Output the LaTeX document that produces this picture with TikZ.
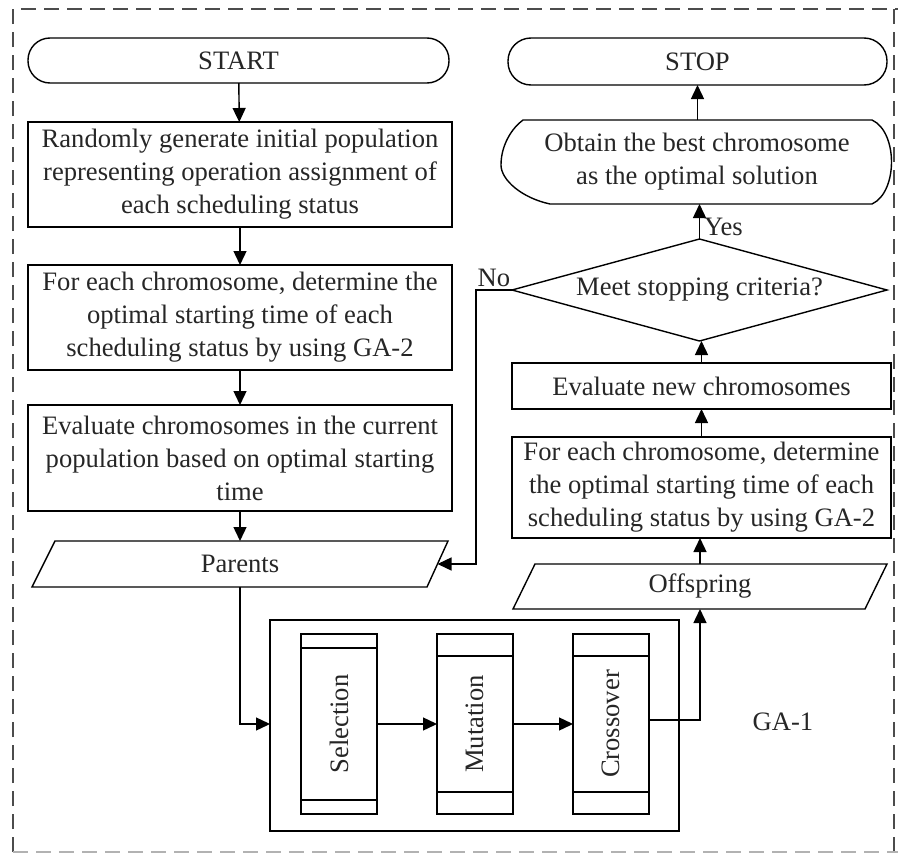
\documentclass[tikz,border=0pt]{standalone}
\usepackage{fontspec}
\setmainfont{Liberation Serif}
\usetikzlibrary{arrows.meta}
\newcommand\flowfont{\fontsize{26.6}{33}\selectfont}
\begin{document}
\begin{tikzpicture}[x=1pt,y=-1pt,line width=1.4pt,
  every node/.style={font=\flowfont,inner sep=0pt,outer sep=0pt,text=black!85},
  box/.style={draw,rectangle,align=center},
  term/.style={draw,rectangle,rounded corners=22pt,align=center},
  plain/.style={rectangle,align=center},
  arr/.style={-{Triangle[length=14pt,width=13pt]}},
  band/.style={draw,rectangle,minimum width=76pt,minimum height=180pt}]
\useasboundingbox (0,0) rectangle (898,854);

% dashed frame
\draw[line width=2.2pt,black!70,dash pattern=on 15pt off 8pt] (13,852) -- (13,9) -- (898,9);
\draw[line width=2.2pt,black!70,dash pattern=on 15pt off 8pt] (894,9) -- (894,852);
\draw[line width=1.6pt,black!30,dash pattern=on 15pt off 8pt] (13,852) -- (898,852);

% left column
\node[term,minimum width=421pt,minimum height=45pt] (start) at (238.5,60.5) {START};
\node[box,minimum width=424pt,minimum height=105pt] (b1) at (240,174.5)
  {Randomly generate initial population\\representing operation assignment of\\each scheduling status};
\node[box,minimum width=424pt,minimum height=105pt] (b2) at (240,317.5)
  {For each chromosome, determine the\\optimal starting time of each\\scheduling status by using GA-2};
\node[box,minimum width=424pt,minimum height=106pt] (b3) at (240,458)
  {Evaluate chromosomes in the current\\population based on optimal starting\\time};
\node[plain,minimum width=416pt,minimum height=46pt] (parents) at (240,564) {Parents};
\draw ([xshift=23pt]parents.north west) -- (parents.north east)
  -- ([xshift=-21pt]parents.south east) -- (parents.south west) -- cycle;
\coordinate (parR) at ([xshift=-10.5pt]parents.east);

% right column
\node[term,minimum width=379pt,minimum height=47pt,rounded corners=23pt] (stop) at (697.5,61.5) {STOP};
\node[plain,minimum width=392pt,minimum height=84pt] (best) at (697,162)
  {Obtain the best chromosome\\as the optimal solution};
\draw (523,120) -- (872,120) .. controls (898,132) and (898,192) .. (872,204)
  -- (550,204) .. controls (522,198) and (501,180) .. (501,165)
  .. controls (501,145) and (512,128) .. (523,120) -- cycle;
\node[plain,minimum width=375pt,minimum height=102pt] (dec) at (699.5,290) {Meet stopping criteria?};
\draw (dec.north) -- (dec.east) -- (dec.south) -- (dec.west) -- cycle;
\node[box,minimum width=379pt,minimum height=46pt] (r1) at (701.5,386) {Evaluate new chromosomes};
\node[box,minimum width=379pt,minimum height=101pt] (r2) at (701.5,487.5)
  {For each chromosome, determine\\the optimal starting time of each\\scheduling status by using GA-2};
\node[plain,minimum width=374pt,minimum height=45pt] (off) at (700,586.5) {Offspring};
\draw ([xshift=22pt]off.north west) -- (off.north east)
  -- ([xshift=-22pt]off.south east) -- (off.south west) -- cycle;

% GA-1 block
\node[draw,rectangle,minimum width=409pt,minimum height=211pt] (ga) at (474.5,725.5) {};
\node[band] (sel) at (339,724) {};
\node[band] (mut) at (475,724) {};
\node[band] (cro) at (611,724) {};
\draw ([yshift=-14pt]sel.north west) -- ([yshift=-14pt]sel.north east);
\draw ([yshift=14pt]sel.south west) -- ([yshift=14pt]sel.south east);
\foreach \n in {mut,cro}{
  \draw ([yshift=-22pt]\n.north west) -- ([yshift=-22pt]\n.north east);
  \draw ([yshift=22pt]\n.south west) -- ([yshift=22pt]\n.south east);
}
\node[rotate=90] (selt) at (sel.center) {Selection};
\node[rotate=90] (mutt) at (mut.center) {Mutation};
\node[rotate=90] (crot) at (cro.center) {Crossover};
\node (galabel) at (783,722) {GA-1};

% connectors
\draw[arr] (start) -- (b1);
\draw[arr] (b1) -- (b2);
\draw[arr] (b2) -- (b3);
\draw[arr] (b3) -- (parents.north);
\draw[arr] (parents.south) |- (sel.center -| ga.west);
\draw[arr] (sel) -- (mut);
\draw[arr] (mut) -- (cro);
\draw[arr] ([yshift=4pt]cro.east) -| (off.south);
\draw[arr] (off.north) -- (off.north |- r2.south);
\draw[arr] (r2) -- (r1);
\draw[arr] (r1.north) -- (r1.north |- dec.south);
\draw[arr] (dec.north) -- (dec.north |- best.south);
\draw[arr] (best.north -| stop.south) -- (stop.south);
\draw[arr] (dec.west) -- ++(-36,0) |- (parR);
\node[anchor=west] (yes) at (704,227) {Yes};
\node (no) at (494,278) {No};
\end{tikzpicture}
\end{document}
